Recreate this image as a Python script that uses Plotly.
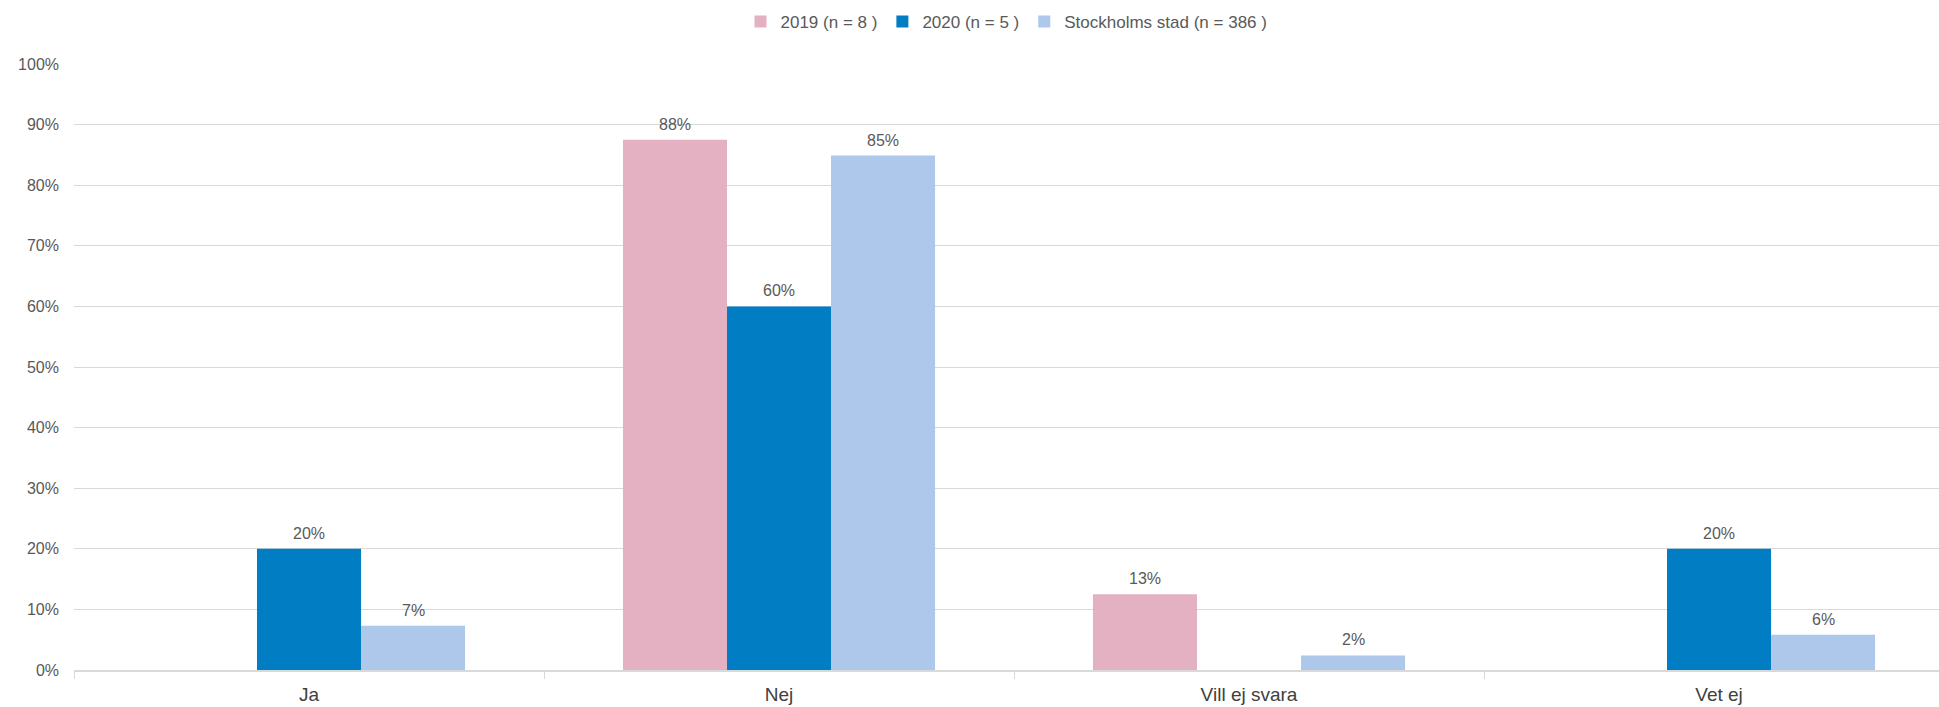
import plotly.graph_objects as go

# Answer categories and shares (%) per group
categories = ["Ja", "Nej", "Vill ej svara", "Vet ej"]
series_names = ["2019 (n = 8 )", "2020 (n = 5 )", "Stockholms stad (n = 386 )"]
values_2019 = [None, 87.5, 12.5, None]
values_2020 = [20.0, 60.0, None, 20.0]
values_sthlm = [7.3, 84.9, 2.4, 5.8]
y_ticks = [0, 10, 20, 30, 40, 50, 60, 70, 80, 90, 100]

colors = ["#E3B1C1", "#007DC3", "#ADC8EA"]
text_grey = "#595959"
grid_grey = "#D9D9D9"
font_family = "Liberation Sans, Arial, sans-serif"

BARGAP = 0.336
n_series = 3
bar_w = (1 - BARGAP) / n_series

fig = go.Figure()
all_series = [values_2019, values_2020, values_sthlm]
for name, vals, col in zip(series_names, all_series, colors):
    fig.add_trace(go.Bar(
        x=categories,
        y=vals,
        name=name,
        marker=dict(color=col, line=dict(width=0)),
        cliponaxis=False,
    ))

# Value labels above each bar
for s_idx, vals in enumerate(all_series):
    offset = (s_idx - (n_series - 1) / 2) * bar_w
    for c_idx, v in enumerate(vals):
        if v is None:
            continue
        fig.add_annotation(
            x=c_idx + offset, y=v, xref="x", yref="y",
            text=f"{int(v + 0.5)}%",
            showarrow=False, yanchor="bottom", yshift=5,
            font=dict(size=16, color=text_grey, family=font_family),
        )

fig.update_layout(
    width=1939,
    height=707,
    barmode="group",
    bargap=BARGAP,
    bargroupgap=0,
    plot_bgcolor="white",
    paper_bgcolor="white",
    margin=dict(l=74, r=0, t=64, b=37),
    font=dict(family=font_family, color=text_grey),
    legend=dict(
        orientation="h",
        x=0.5, xanchor="center",
        yref="container", y=1 - 22 / 707, yanchor="middle",
        font=dict(size=17, color=text_grey),
        itemwidth=30,
        tracegroupgap=0,
    ),
)

fig.update_yaxes(
    range=[0, 100],
    tickvals=y_ticks,
    ticktext=[f"{t}%" for t in y_ticks],
    tickfont=dict(size=16, color=text_grey),
    showgrid=True,
    gridcolor=grid_grey,
    gridwidth=1,
    zeroline=False,
    showline=False,
    ticks="",
    ticklabelstandoff=14,
)

fig.update_xaxes(
    range=[-0.5, 3.468],
    tickfont=dict(size=19, color="#404040"),
    showline=True,
    linecolor=grid_grey,
    linewidth=2,
    ticks="outside",
    tickson="boundaries",
    ticklen=7,
    tickcolor=grid_grey,
    tickwidth=1,
    ticklabelstandoff=6,
    showgrid=False,
)

fig.write_html("out.html")
